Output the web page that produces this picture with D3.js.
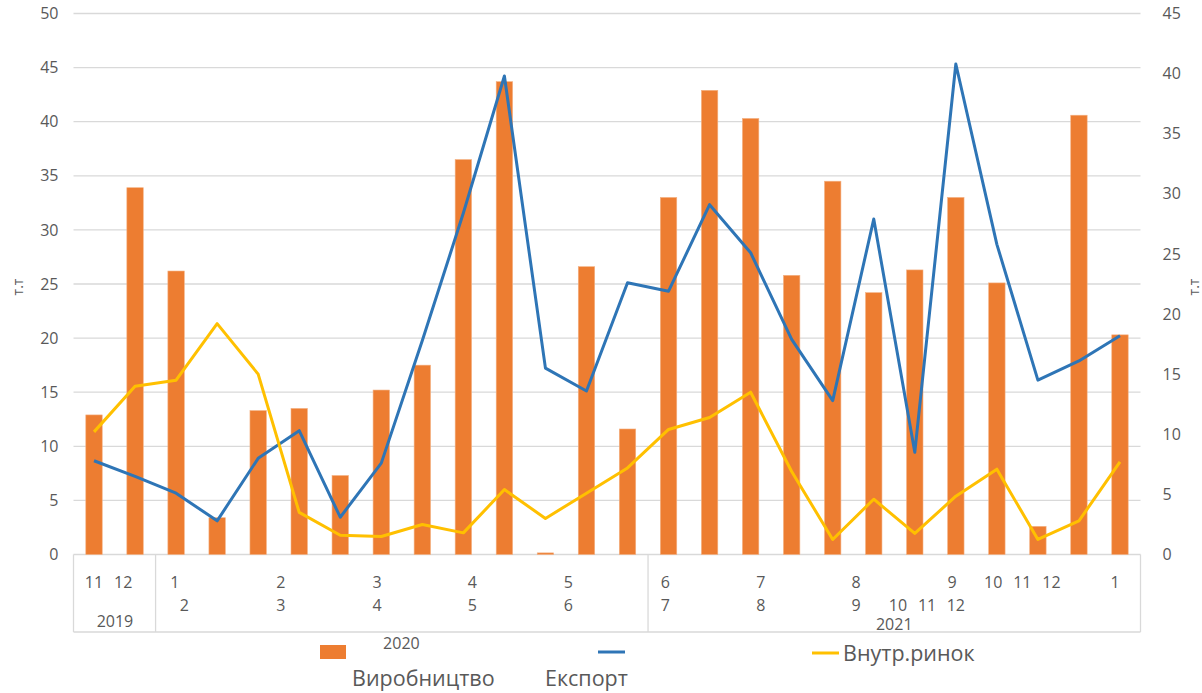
<!DOCTYPE html>
<html><head><meta charset="utf-8">
<script src="https://cdn.jsdelivr.net/npm/d3@7"></script>
<style>
body{margin:0;background:#fff;}
svg{display:block;font-family:"Open Sans","Liberation Sans",sans-serif;}
</style></head><body>
<svg id="chart" width="1202" height="693"></svg>
<script>
// ---- data ----
const categories = d3.range(26);
const production = [12.9, 33.9, 26.2, 3.4, 13.3, 13.5, 7.3, 15.2, 17.5, 36.5, 43.7, 0.15, 26.6, 11.6, 33.0, 42.9, 40.3, 25.8, 34.5, 24.2, 26.3, 33.0, 25.1, 2.6, 40.6, 20.3];
const exportV    = [7.8, 6.5, 5.1, 2.8, 8.0, 10.3, 3.1, 7.6, 17.8, 28.4, 39.8, 15.5, 13.6, 22.6, 21.9, 29.1, 25.1, 17.9, 12.8, 27.9, 8.5, 40.8, 25.8, 14.5, 16.1, 18.2];
const domestic   = [10.2, 14.0, 14.5, 19.2, 15.0, 3.5, 1.6, 1.5, 2.5, 1.8, 5.4, 3.0, 5.1, 7.2, 10.4, 11.4, 13.5, 6.9, 1.25, 4.6, 1.75, 4.85, 7.1, 1.25, 2.8, 7.7];
const leftTicks  = [0, 5, 10, 15, 20, 25, 30, 35, 40, 45, 50];
const rightTicks = [0, 5, 10, 15, 20, 25, 30, 35, 40, 45];
const row1Labels = ["11", "12", "1", "2", "3", "4", "5", "6", "7", "8", "9", "10", "11", "12", "1"];
const row2Labels = ["2", "3", "4", "5", "6", "7", "8", "9", "10", "11", "12"];
const yearLabels = ["2019", "2020", "2021"];
const seriesNames = ["Виробництво", "Експорт", "Внутр.ринок"];
const axisTitle = "т.т";

// ---- layout ----
const svg = d3.select("#chart");
const L = 73.5, R = 1140.5, T = 13.5, B = 554.5;
const x = d3.scaleBand().domain(categories).range([L, R]).paddingInner(0.6).paddingOuter(0.3);
const cx = i => x(0) + x.bandwidth() / 2 + i * x.step();
const yL = d3.scaleLinear().domain([0, 50]).range([B, T]);
const yR = d3.scaleLinear().domain([0, 45]).range([B, T]);
const txt = "#595959", grid = "#d9d9d9";

// gridlines
svg.append("g").selectAll("line").data(leftTicks).join("line")
  .attr("x1", L).attr("x2", R).attr("y1", d => yL(d)).attr("y2", d => yL(d))
  .attr("stroke", grid).attr("stroke-width", 1.3);

// left axis
const axL = svg.append("g").attr("transform", `translate(${L},0)`)
  .call(d3.axisLeft(yL).tickValues(leftTicks).tickSize(0).tickPadding(15));
axL.select(".domain").remove();
axL.selectAll("text").attr("fill", txt).style("font-size", "16px").style("font-family", "Open Sans");

// right axis
const axR = svg.append("g").attr("transform", `translate(${R},0)`)
  .call(d3.axisRight(yR).tickValues(rightTicks).tickSize(0).tickPadding(22));
axR.select(".domain").remove();
axR.selectAll("text").attr("fill", txt).style("font-size", "16px").style("font-family", "Open Sans");

// axis titles
svg.append("text").attr("transform", "translate(23,287) rotate(-90)").attr("text-anchor", "middle")
  .attr("fill", txt).style("font-size", "14px").text(axisTitle);
svg.append("text").attr("transform", "translate(1199,287) rotate(-90)").attr("text-anchor", "middle")
  .attr("fill", txt).style("font-size", "14px").text(axisTitle);

// category axis box
const boxBottom = 632;
const sepIdx = [-0.5, 1.5, 13.5, 25.5];
svg.append("g").selectAll("line").data(sepIdx).join("line")
  .attr("x1", d => cx(d)).attr("x2", d => cx(d)).attr("y1", B).attr("y2", boxBottom)
  .attr("stroke", grid).attr("stroke-width", 1.3);
svg.append("line").attr("x1", L).attr("x2", R).attr("y1", boxBottom).attr("y2", boxBottom)
  .attr("stroke", grid).attr("stroke-width", 1.3);

// category labels (positions in category-index units)
const row1Pos = [0, 0.71, 1.97, 4.55, 6.9, 9.22, 11.56, 13.92, 16.25, 18.57, 20.91, 21.91, 22.62, 23.33, 24.88];
const row2Pos = [2.2, 4.55, 6.9, 9.22, 11.56, 13.92, 16.25, 18.57, 19.59, 20.3, 21.0];
const lab = svg.append("g").attr("fill", txt).style("font-size", "16px").attr("text-anchor", "middle");
lab.selectAll(".r1").data(row1Labels).join("text").attr("class", "r1")
  .attr("x", (d, i) => cx(row1Pos[i])).attr("y", 588).text(d => d);
lab.selectAll(".r2").data(row2Labels).join("text").attr("class", "r2")
  .attr("x", (d, i) => cx(row2Pos[i])).attr("y", 611).text(d => d);
const yearPos = [[0.51, 627], [7.49, 649], [19.5, 630]];
lab.selectAll(".yr").data(yearLabels).join("text").attr("class", "yr")
  .attr("x", (d, i) => cx(yearPos[i][0])).attr("y", (d, i) => yearPos[i][1]).text(d => d);

// bars
svg.append("g").selectAll("rect").data(production).join("rect")
  .attr("x", (d, i) => x(i)).attr("width", x.bandwidth())
  .attr("y", d => yL(d)).attr("height", d => B - yL(d))
  .attr("fill", "#ED7D31").attr("stroke", "#F4B183").attr("stroke-width", 0.6);

// lines
const line = d3.line().x((d, i) => cx(i)).y(d => yR(d));
svg.append("path").datum(exportV).attr("d", line).attr("fill", "none")
  .attr("stroke", "#2E75B6").attr("stroke-width", 3).attr("stroke-linejoin", "round");
svg.append("path").datum(domestic).attr("d", line).attr("fill", "none")
  .attr("stroke", "#FFC000").attr("stroke-width", 3).attr("stroke-linejoin", "round");

// legend
const lg = svg.append("g").attr("fill", txt).style("font-size", "21.5px");
lg.append("rect").attr("x", 320).attr("y", 645).attr("width", 26).attr("height", 14).attr("fill", "#ED7D31");
lg.append("text").attr("x", 352).attr("y", 686).text(seriesNames[0]);
lg.append("line").attr("x1", 598).attr("x2", 625).attr("y1", 652).attr("y2", 652).attr("stroke", "#2E75B6").attr("stroke-width", 3);
lg.append("text").attr("x", 545).attr("y", 686).text(seriesNames[1]);
lg.append("line").attr("x1", 812).attr("x2", 839).attr("y1", 653).attr("y2", 653).attr("stroke", "#FFC000").attr("stroke-width", 3);
lg.append("text").attr("x", 843).attr("y", 661).text(seriesNames[2]);
</script>
</body></html>
